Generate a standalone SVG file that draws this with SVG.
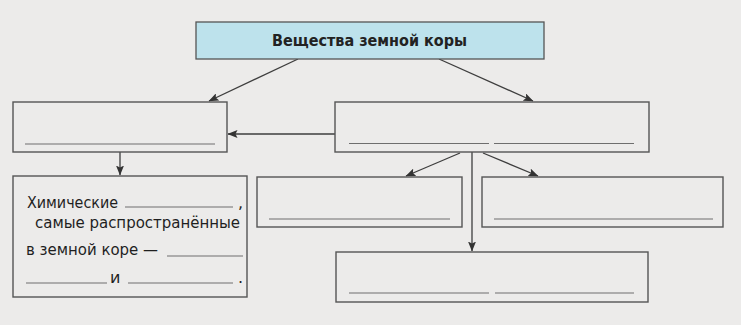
<svg xmlns="http://www.w3.org/2000/svg" width="741" height="325" viewBox="0 0 741 325">
<defs>
<marker id="ah" markerWidth="10" markerHeight="8" refX="9.5" refY="4" orient="auto" markerUnits="userSpaceOnUse">
<path d="M0,0 L10,4 L0,8 L2,4 Z" fill="#333"/>
</marker>
<style>
.box{fill:none;stroke:#555;stroke-width:1.4}
.ul{stroke:#6e6e6e;stroke-width:1.2}
.con{stroke:#3e3e3e;stroke-width:1.3;fill:none;marker-end:url(#ah)}
.t{font-family:"DejaVu Sans",sans-serif;font-size:16px;fill:#1f1f1f}
.title{font-family:"DejaVu Sans",sans-serif;font-size:16px;font-weight:bold;fill:#222}
</style>
</defs>
<rect x="0" y="0" width="741" height="325" fill="#ecebea"/>
<g id="connectors">
<line class="con" x1="298" y1="59" x2="209" y2="101"/>
<line class="con" x1="439" y1="59" x2="533" y2="101"/>
<line class="con" x1="335" y1="134" x2="228" y2="134"/>
<line class="con" x1="120" y1="152" x2="120" y2="175"/>
<line class="con" x1="460" y1="153" x2="406" y2="176"/>
<line class="con" x1="483" y1="153" x2="538" y2="176"/>
<line class="con" x1="472" y1="152" x2="472" y2="251"/>
</g>
<g id="title">
<rect x="196" y="22" width="348" height="37" fill="#bde2ec" stroke="#555" stroke-width="1.3"/>
<text class="title" x="272" y="45.5" textLength="195" lengthAdjust="spacingAndGlyphs">Вещества земной коры</text>
</g>
<g id="left1">
<rect class="box" x="13" y="102" width="214" height="50"/>
<line class="ul" x1="25" y1="144" x2="215" y2="144"/>
</g>
<g id="right1">
<rect class="box" x="335" y="102" width="314" height="50"/>
<line class="ul" x1="349" y1="143.5" x2="489" y2="143.5"/>
<line class="ul" x1="494" y1="143.5" x2="634" y2="143.5"/>
</g>
<g id="chem">
<rect class="box" x="13" y="176" width="234" height="121"/>
<text class="t" x="27" y="207.5" textLength="91" lengthAdjust="spacingAndGlyphs">Химические</text>
<line class="ul" x1="125" y1="207" x2="233" y2="207"/>
<text class="t" x="238" y="207.5">,</text>
<text class="t" x="35" y="227.5" textLength="205" lengthAdjust="spacingAndGlyphs">самые распространённые</text>
<text class="t" x="26" y="255" textLength="132" lengthAdjust="spacingAndGlyphs">в земной коре —</text>
<line class="ul" x1="167" y1="256" x2="243" y2="256"/>
<line class="ul" x1="26" y1="283" x2="107" y2="283"/>
<text class="t" x="110" y="283">и</text>
<line class="ul" x1="128" y1="283" x2="233" y2="283"/>
<text class="t" x="238" y="283">.</text>
</g>
<g id="midA">
<rect class="box" x="257" y="177" width="205" height="50"/>
<line class="ul" x1="269" y1="219" x2="450" y2="219"/>
</g>
<g id="midB">
<rect class="box" x="482" y="177" width="241" height="50"/>
<line class="ul" x1="494" y1="219" x2="713" y2="219"/>
</g>
<g id="bottom">
<rect class="box" x="336" y="252" width="312" height="50"/>
<line class="ul" x1="349" y1="293" x2="489" y2="293"/>
<line class="ul" x1="495" y1="293" x2="634" y2="293"/>
</g>
</svg>
